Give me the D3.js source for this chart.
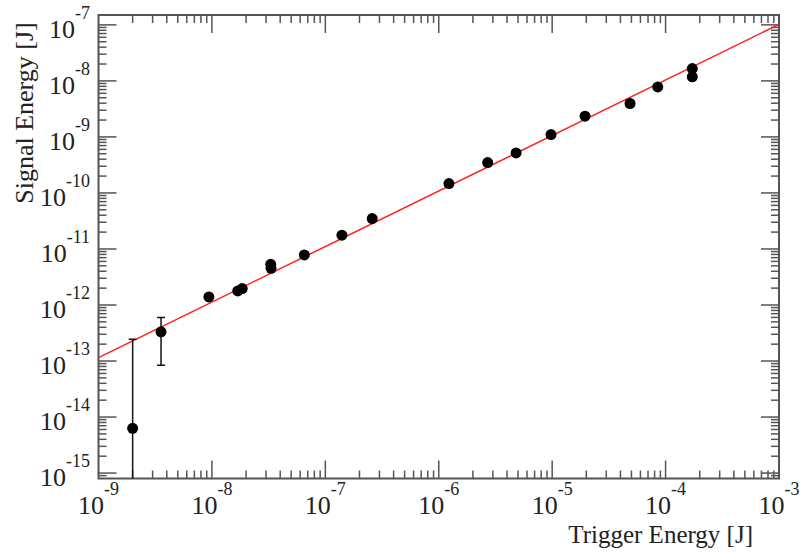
<!DOCTYPE html>
<html lang="en">
<head>
    <meta charset="UTF-8">
    <title>Signal vs Trigger Energy</title>
    <script src="https://d3js.org/d3.v7.min.js"></script>
    <style>
        body {
            margin: 0;
            background: white;
        }
        svg text {
            font-family: "Liberation Serif", "Times New Roman", serif;
            fill: #222;
        }
    </style>
</head>
<body>
    <svg width="802" height="555"></svg>
    <script>
        // measured points (trigger energy, signal energy) in J
        const triggerEnergy = [2.0e-9, 3.56e-9, 9.4e-9, 1.69e-8, 1.85e-8, 3.30e-8, 3.32e-8, 6.53e-8, 1.40e-7,
            2.59e-7, 1.23e-6, 2.70e-6, 4.81e-6, 9.77e-6, 1.95e-5, 4.86e-5, 8.53e-5, 1.72e-4, 1.72e-4];
        const signalEnergy = [6.3e-15, 3.32e-13, 1.39e-12, 1.78e-12, 1.96e-12, 5.33e-12, 4.52e-12, 7.82e-12, 1.76e-11,
            3.49e-11, 1.47e-10, 3.49e-10, 5.18e-10, 1.10e-9, 2.34e-9, 3.95e-9, 7.81e-9, 1.66e-8, 1.18e-8];
        // error bars (only first two points have visible ones)
        const errIndex = [0, 1];
        const errLow = [1e-17, 8.4e-14];
        const errHigh = [2.45e-13, 5.96e-13];

        // fitted line end points
        const fitX = [1e-9, 1e-3];
        const fitY = [1.15e-13, 1.02e-7];

        const xTickExp = [-9, -8, -7, -6, -5, -4, -3];
        const yTickExp = [-15, -14, -13, -12, -11, -10, -9, -8, -7];

        const svg = d3.select("svg");
        const plot = { left: 98.5, right: 779, top: 15, bottom: 478.5 };

        const x = d3.scaleLog().domain([1e-9, 1e-3]).range([plot.left, plot.right]);
        const y = d3.scaleLog().domain([8e-16, 1.5e-7]).range([plot.bottom, plot.top]);

        svg.append("clipPath").attr("id", "clip")
            .append("rect")
            .attr("x", plot.left).attr("y", plot.top)
            .attr("width", plot.right - plot.left).attr("height", plot.bottom - plot.top);

        // ticks (inward, on all four sides)
        const minorX = [], minorY = [];
        for (let e = -9; e < -3; e++) for (let m = 2; m <= 9; m++) minorX.push(m * Math.pow(10, e));
        for (let e = -16; e < -6; e++) for (let m = 1; m <= 9; m++) {
            const v = m * Math.pow(10, e);
            if (m > 1 && v > 8e-16 && v < 1.5e-7) minorY.push(v);
        }
        const majorX = xTickExp.map(e => Math.pow(10, e));
        const majorY = yTickExp.map(e => Math.pow(10, e));

        const ticks = svg.append("g").attr("stroke", "#555").attr("stroke-width", 1.5);
        function xTicks(vals, len) {
            vals.forEach(v => {
                ticks.append("line").attr("x1", x(v)).attr("x2", x(v))
                    .attr("y1", plot.bottom).attr("y2", plot.bottom - len);
                ticks.append("line").attr("x1", x(v)).attr("x2", x(v))
                    .attr("y1", plot.top).attr("y2", plot.top + len);
            });
        }
        function yTicks(vals, len) {
            vals.forEach(v => {
                ticks.append("line").attr("y1", y(v)).attr("y2", y(v))
                    .attr("x1", plot.left).attr("x2", plot.left + len);
                ticks.append("line").attr("y1", y(v)).attr("y2", y(v))
                    .attr("x1", plot.right).attr("x2", plot.right - len);
            });
        }
        xTicks(minorX, 8);
        xTicks(majorX.slice(1, -1), 18);
        yTicks(minorY, 8);
        yTicks(majorY, 18);

        svg.append("rect")
            .attr("x", plot.left).attr("y", plot.top)
            .attr("width", plot.right - plot.left).attr("height", plot.bottom - plot.top)
            .attr("fill", "none").attr("stroke", "#555").attr("stroke-width", 2);

        // tick labels
        xTickExp.forEach(e => {
            const t = svg.append("text")
                .attr("x", x(Math.pow(10, e)))
                .attr("y", 514)
                .attr("text-anchor", "middle")
                .attr("font-size", 26);
            t.append("tspan").text("10");
            t.append("tspan").attr("dy", -19).attr("font-size", 18).text(e);
        });
        yTickExp.forEach(e => {
            const t = svg.append("text")
                .attr("x", 90)
                .attr("y", y(Math.pow(10, e)) + 13)
                .attr("text-anchor", "end")
                .attr("font-size", 26);
            t.append("tspan").text("10");
            t.append("tspan").attr("dy", -19).attr("font-size", 18).text(e);
        });

        // axis titles
        svg.append("text")
            .attr("x", 753).attr("y", 543)
            .attr("text-anchor", "end")
            .attr("font-size", 25)
            .text("Trigger Energy [J]");
        svg.append("text")
            .attr("transform", "translate(33,113) rotate(-90)")
            .attr("text-anchor", "middle")
            .attr("font-size", 26)
            .text("Signal Energy [J]");

        const body = svg.append("g").attr("clip-path", "url(#clip)");

        // fit line
        body.append("line")
            .attr("x1", x(fitX[0])).attr("y1", y(fitY[0]))
            .attr("x2", x(fitX[1])).attr("y2", y(fitY[1]))
            .attr("stroke", "#ff2020").attr("stroke-width", 1.5);

        // error bars
        errIndex.forEach((i, k) => {
            const cx = x(triggerEnergy[i]);
            body.append("line")
                .attr("x1", cx).attr("x2", cx)
                .attr("y1", y(errHigh[k])).attr("y2", Math.min(y(errLow[k]), plot.bottom + 5))
                .attr("stroke", "#111").attr("stroke-width", 1.5);
            [errHigh[k], errLow[k]].forEach(v => {
                body.append("line")
                    .attr("x1", cx - 4).attr("x2", cx + 4)
                    .attr("y1", y(v)).attr("y2", y(v))
                    .attr("stroke", "#111").attr("stroke-width", 1.5);
            });
        });

        body.selectAll(".pt")
            .data(triggerEnergy)
            .enter()
            .append("circle")
            .attr("class", "pt")
            .attr("cx", d => x(d))
            .attr("cy", (d, i) => y(signalEnergy[i]))
            .attr("r", 5.5)
            .attr("fill", "black");
    </script>
</body>
</html>
